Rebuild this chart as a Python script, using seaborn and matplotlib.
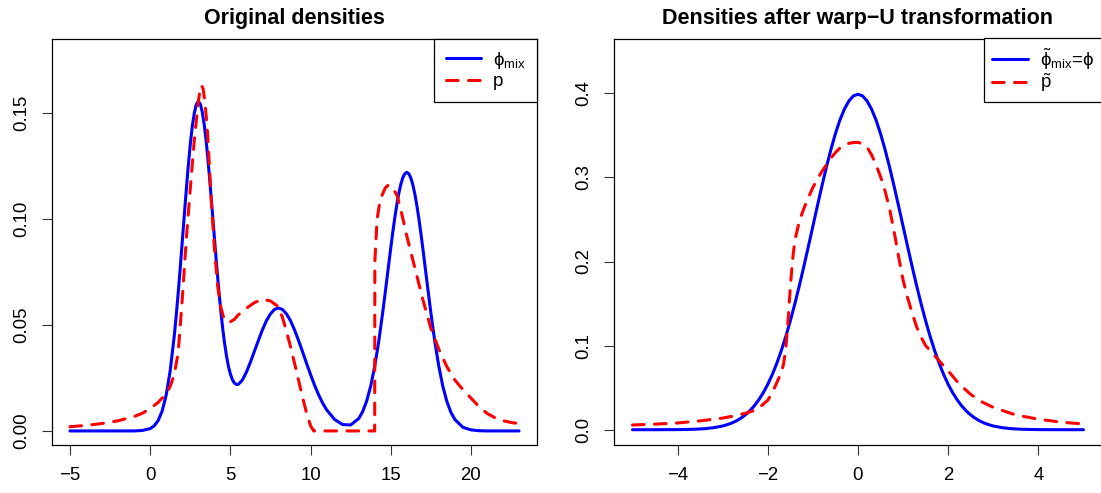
import matplotlib
matplotlib.use("Agg")
import matplotlib.pyplot as plt
import seaborn as sns
from matplotlib.lines import Line2D

# ---------------- data ----------------
# Original densities: mixture reference (solid) and target p (dashed)
orig_x_mix = [-5, -4, -3, -2, -1, -0.5,
              0.0, 0.25, 0.5, 0.75, 1.0, 1.25, 1.5, 1.625, 1.75, 1.875,
              2.0, 2.125, 2.25, 2.375, 2.5, 2.625, 2.75, 2.875,
              3.0, 3.125, 3.25, 3.375, 3.5, 3.625, 3.75, 3.875,
              4.0, 4.125, 4.25, 4.375, 4.5, 4.625, 4.75, 4.875,
              5.0, 5.125, 5.25, 5.375, 5.5, 5.75,
              6.0, 6.25, 6.5, 6.75, 7.0, 7.25, 7.5, 7.75, 8.0, 8.25, 8.5, 8.75,
              9.0, 9.25, 9.5, 9.75, 10.0, 10.25, 10.5, 10.75, 11.0,
              11.5, 12.0, 12.5, 13.0,
              13.25, 13.5, 13.75, 14.0, 14.25, 14.5, 14.625, 14.75, 14.875,
              15.0, 15.125, 15.25, 15.375, 15.5, 15.625, 15.75, 15.875,
              16.0, 16.125, 16.25, 16.375, 16.5, 16.625, 16.75, 16.875,
              17.0, 17.125, 17.25, 17.375, 17.5, 17.625, 17.75, 18.0,
              18.25, 18.5, 18.75, 19.0,
              19.5, 20.0, 20.5, 21.0, 22.0, 23.0]
orig_phi_mix = [0.0, 0.0, 0.0, 0.0, 0.0, 0.0002,
                0.0011, 0.0024, 0.0049, 0.0094, 0.0169, 0.0284, 0.0446, 0.0544,
                0.0652, 0.0769,
                0.0891, 0.1014, 0.1135, 0.1248, 0.1350, 0.1436, 0.1498, 0.1540,
                0.1554, 0.1543, 0.1504, 0.1443, 0.1361, 0.1262, 0.1152, 0.1035,
                0.0917, 0.0800, 0.0689, 0.0589, 0.0499, 0.0422, 0.0358, 0.0307,
                0.0269, 0.0242, 0.0226, 0.0219, 0.0220, 0.0240,
                0.0277, 0.0324, 0.0376, 0.0427, 0.0477, 0.0520, 0.0552, 0.0573,
                0.0580, 0.0573, 0.0552, 0.0520,
                0.0477, 0.0427, 0.0374, 0.0319, 0.0266, 0.0216, 0.0171, 0.0132,
                0.0100,
                0.0054, 0.0030, 0.0028, 0.0058,
                0.0091, 0.0141, 0.0211, 0.0304, 0.0421, 0.0559, 0.0633, 0.0709,
                0.0786,
                0.0862, 0.0935, 0.1004, 0.1065, 0.1119, 0.1162, 0.1194, 0.1213,
                0.1220, 0.1213, 0.1194, 0.1162, 0.1119, 0.1065, 0.1004, 0.0935,
                0.0862, 0.0786, 0.0709, 0.0633, 0.0559, 0.0488, 0.0421, 0.0304,
                0.0210, 0.0139, 0.0088, 0.0054,
                0.0017, 0.0005, 0.0001, 0.0, 0.0, 0.0]

orig_x_p = [-5.0, -4.0, -3.0, -2.0, -1.0, -0.5, 0.0, 0.5, 1.0, 1.25, 1.5, 1.75,
            2.0, 2.25, 2.5, 2.75, 3.0, 3.1, 3.2, 3.3, 3.4, 3.5, 3.6, 3.8, 4.0,
            4.2, 4.4, 4.6, 4.8, 5.0, 5.25, 5.5, 6.0, 6.5, 7.0, 7.5, 8.0, 8.25,
            8.5, 8.75, 9.0, 9.25, 9.5, 9.75, 10.0, 10.2, 14.0, 14.01, 14.15,
            14.3, 14.45, 14.65, 14.85, 15.1, 15.4, 15.7, 16.0, 16.5, 17.0, 17.5,
            18.0, 18.5, 19.0, 19.5, 20.0, 20.5, 21.0, 21.5, 22.0, 22.5, 23.0]
orig_p = [0.0020, 0.0026, 0.0035, 0.0048, 0.0068, 0.0083, 0.0105, 0.0135,
          0.0175, 0.0210, 0.0265, 0.0370,
          0.0620, 0.0900, 0.1140, 0.1370, 0.1550, 0.1605, 0.1630, 0.1615,
          0.1560, 0.1480, 0.1380, 0.1100, 0.0870,
          0.0690, 0.0585, 0.0530, 0.0512, 0.0515, 0.0526, 0.0548, 0.0579,
          0.0605, 0.0621, 0.0613, 0.0586, 0.0535,
          0.0470, 0.0398, 0.0320, 0.0240, 0.0160, 0.0085, 0.0025, 0.0, 0.0,
          0.0800, 0.1000,
          0.1070, 0.1110, 0.1145, 0.1160, 0.1150, 0.1110, 0.1020, 0.0920,
          0.0770, 0.0620, 0.0485,
          0.0385, 0.0303, 0.0240, 0.0195, 0.0155, 0.0115, 0.0083, 0.0062,
          0.0048, 0.0040, 0.0034]

# Densities after the warp-U transformation
warp_x_phi = [-5.0, -4.5, -4.0, -3.8, -3.6, -3.4, -3.2, -3.0, -2.9, -2.8, -2.7,
              -2.6, -2.5, -2.4, -2.3, -2.2, -2.1, -2.0, -1.9, -1.8, -1.7, -1.6,
              -1.5, -1.4, -1.3, -1.2, -1.1, -1.0, -0.9, -0.8, -0.7, -0.6, -0.5,
              -0.4, -0.3, -0.2, -0.1, 0.0, 0.1, 0.2, 0.3, 0.4, 0.5, 0.6, 0.7,
              0.8, 0.9, 1.0, 1.1, 1.2, 1.3, 1.4, 1.5, 1.6, 1.7, 1.8, 1.9, 2.0,
              2.1, 2.2, 2.3, 2.4, 2.5, 2.6, 2.7, 2.8, 2.9, 3.0, 3.2, 3.4, 3.6,
              3.8, 4.0, 4.5, 5.0]
warp_phi = [0.0, 0.0, 0.0001, 0.0003, 0.0006, 0.0012, 0.0024, 0.0044, 0.0060,
            0.0079, 0.0104, 0.0136, 0.0175, 0.0224, 0.0283, 0.0355, 0.0440,
            0.0540, 0.0656, 0.0790, 0.0940, 0.1109, 0.1295, 0.1497, 0.1714,
            0.1942, 0.2179, 0.2420, 0.2661, 0.2897, 0.3123, 0.3332, 0.3521,
            0.3683, 0.3814, 0.3910, 0.3970, 0.3989, 0.3970, 0.3910, 0.3814,
            0.3683, 0.3521, 0.3332, 0.3123, 0.2897, 0.2661, 0.2420, 0.2179,
            0.1942, 0.1714, 0.1497, 0.1295, 0.1109, 0.0940, 0.0790, 0.0656,
            0.0540, 0.0440, 0.0355, 0.0283, 0.0224, 0.0175, 0.0136, 0.0104,
            0.0079, 0.0060, 0.0044, 0.0024, 0.0012, 0.0006, 0.0003, 0.0001,
            0.0, 0.0]

warp_x_p = [-5.0, -4.5, -4.0, -3.5, -3.0, -2.75, -2.5, -2.25, -2.0, -1.9, -1.8,
            -1.7, -1.65, -1.6, -1.55, -1.5, -1.45, -1.4, -1.3, -1.2, -1.1, -1.0,
            -0.9, -0.8, -0.7, -0.6, -0.5, -0.4, -0.3, -0.2, -0.1, 0.0, 0.1, 0.2,
            0.3, 0.4, 0.5, 0.6, 0.7, 0.8, 0.9, 1.0, 1.1, 1.2, 1.3, 1.4, 1.5,
            1.75, 2.0, 2.25, 2.5, 2.75, 3.0, 3.5, 4.0, 4.5, 5.0]
warp_p = [0.0056, 0.0066, 0.0080, 0.0105, 0.0138, 0.0163, 0.0195, 0.0236,
          0.0350, 0.0440, 0.0560,
          0.0680, 0.0780, 0.0970, 0.1300, 0.1700, 0.2020, 0.2250, 0.2480,
          0.2630, 0.2760, 0.2880,
          0.2980, 0.3070, 0.3150, 0.3230, 0.3295, 0.3350, 0.3385, 0.3405,
          0.3415, 0.3417, 0.3400, 0.3360,
          0.3270, 0.3150, 0.3010, 0.2840, 0.2630, 0.2360, 0.2060, 0.1780,
          0.1570, 0.1390, 0.1225, 0.1100, 0.1000,
          0.0850, 0.0700, 0.0540, 0.0420, 0.0330, 0.0265, 0.0175, 0.0125,
          0.0090, 0.0068]

orig_xticks = [-5, 0, 5, 10, 15, 20]
orig_xticklabels = ["\u22125", "0", "5", "10", "15", "20"]
orig_yticks = [0.0, 0.05, 0.10, 0.15]
orig_yticklabels = ["0.00", "0.05", "0.10", "0.15"]
warp_xticks = [-4, -2, 0, 2, 4]
warp_xticklabels = ["\u22124", "\u22122", "0", "2", "4"]
warp_yticks = [0.0, 0.1, 0.2, 0.3, 0.4]
warp_yticklabels = ["0.0", "0.1", "0.2", "0.3", "0.4"]

titles = ["Original densities", "Densities after warp\u2212U transformation"]
orig_labels = [r"$\mathrm{\phi_{mix}}$", "p"]
warp_labels = [r"$\mathrm{\tilde{\phi}_{mix}}$=$\mathrm{\phi}$",
               r"$\mathrm{\tilde{p}}$"]

# ---------------- style ----------------
sns.set_style("ticks")
plt.rcParams["font.family"] = ["Liberation Sans", "DejaVu Sans"]
plt.rcParams["mathtext.fontset"] = "custom"
plt.rcParams["mathtext.rm"] = "Liberation Sans"
plt.rcParams["mathtext.it"] = "Liberation Sans:italic"
plt.rcParams["mathtext.bf"] = "Liberation Sans:bold"
plt.rcParams["mathtext.fallback"] = "stixsans"
for key in ("text.color", "axes.labelcolor", "xtick.color", "ytick.color",
            "axes.edgecolor"):
    plt.rcParams[key] = "black"

BLUE = "#0000FF"
RED = "#FF0000"
LW = 2.2
DASH = (0, (3.8, 3.4))
TICK_FS = 13.4
TITLE_FS = 15.5

W, H = 1101, 493
fig = plt.figure(figsize=(W / 100, H / 100), dpi=100)
ax1 = fig.add_axes([52 / W, (H - 444.5) / H, 485 / W, 406 / H])
ax2 = fig.add_axes([614 / W, (H - 444.5) / H, 487.5 / W, 406 / H])


def draw_panel(ax, xs, ys, xp, yp, xlim, ylim, xt, xtl, yt, ytl, title,
               labels, spacing, bpad):
    sns.lineplot(x=xs, y=ys, ax=ax, color=BLUE, linewidth=LW, estimator=None,
                 sort=False, legend=False, solid_capstyle="round",
                 solid_joinstyle="round")
    sns.lineplot(x=xp, y=yp, ax=ax, color=RED, linewidth=LW, estimator=None,
                 sort=False, legend=False, linestyle=DASH,
                 dash_capstyle="round", dash_joinstyle="round")
    ax.set_xlim(*xlim)
    ax.set_ylim(*ylim)
    ax.set_xticks(xt)
    ax.set_xticklabels(xtl)
    ax.set_yticks(yt)
    ax.set_yticklabels(ytl, rotation=90, va="center")
    ax.set_xlabel("")
    ax.set_ylabel("")
    ax.tick_params(direction="out", length=7.5, width=0.8, color="#333333",
                   labelcolor="black", labelsize=TICK_FS, pad=8.5)
    for s in ax.spines.values():
        s.set_visible(True)
        s.set_color("black")
        s.set_linewidth(0.9)
    ax.set_title(title, fontsize=TITLE_FS, fontweight="bold", pad=10.4,
                 color="black")
    handles = [Line2D([], [], color=BLUE, linewidth=LW),
               Line2D([], [], color=RED, linewidth=LW, linestyle=DASH,
                      dash_capstyle="round")]
    leg = ax.legend(handles, labels, loc="upper right", borderaxespad=0,
                    fancybox=False, framealpha=1, edgecolor="black",
                    fontsize=TICK_FS, handlelength=1.9, handletextpad=0.65,
                    borderpad=bpad, labelspacing=spacing)
    leg.get_frame().set_linewidth(0.9)
    for t in leg.get_texts():
        t.set_color("black")


draw_panel(ax1, orig_x_mix, orig_phi_mix, orig_x_p, orig_p,
           (-6.12, 24.12), (-0.0064, 0.1851),
           orig_xticks, orig_xticklabels, orig_yticks, orig_yticklabels,
           titles[0], orig_labels, 0.15, 0.6)
draw_panel(ax2, warp_x_phi, warp_phi, warp_x_p, warp_p,
           (-5.41, 5.40), (-0.0176, 0.4652),
           warp_xticks, warp_xticklabels, warp_yticks, warp_yticklabels,
           titles[1], warp_labels, 0.0, 0.42)

fig.savefig("out.png", dpi=100)
